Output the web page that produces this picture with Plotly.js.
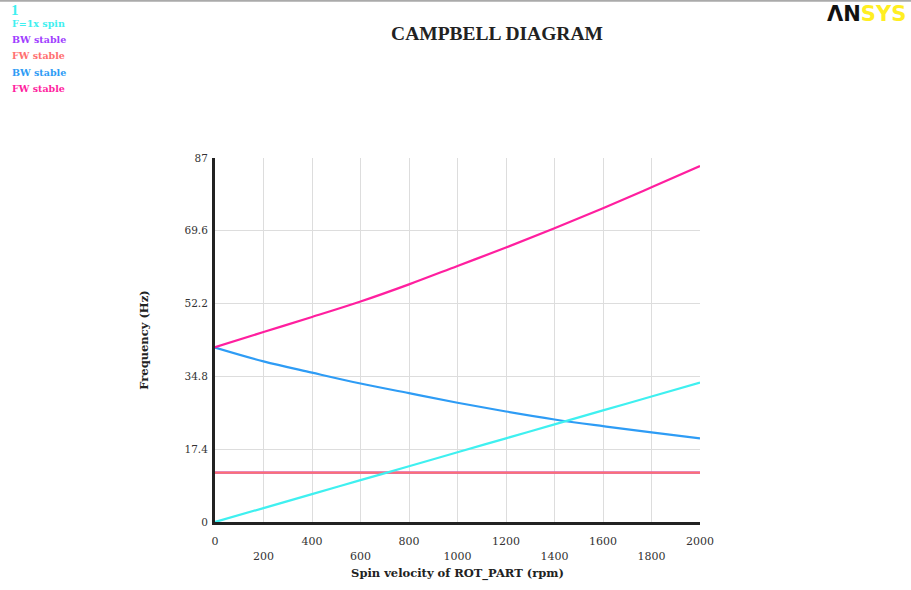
<!DOCTYPE html>
<html>
<head>
<meta charset="utf-8">
<script src="https://cdn.plot.ly/plotly-3.0.1.min.js"></script>
<style>html,body{margin:0;padding:0;background:#fff;}#chart{width:911px;height:590px;}</style>
</head>
<body>
<div id="chart"></div>
<script>
// Spin velocity (rpm)
const rpm = [0, 200, 400, 600, 800, 1000, 1200, 1400, 1600, 1800, 2000];
// Series (Hz)
const spin1x   = [0, 3.33, 6.67, 10.0, 13.33, 16.67, 20.0, 23.33, 26.67, 30.0, 33.33];
const bwStable1 = [11.8, 11.8, 11.8, 11.8, 11.8, 11.8, 11.8, 11.8, 11.8, 11.8, 11.8];
const fwStable1 = [11.8, 11.8, 11.8, 11.8, 11.8, 11.8, 11.8, 11.8, 11.8, 11.8, 11.8];
const bwStable2 = [41.7, 38.4, 35.7, 33.1, 30.8, 28.5, 26.4, 24.5, 22.9, 21.4, 20.0];
const fwStable2 = [41.8, 45.4, 49.0, 52.7, 56.8, 61.2, 65.6, 70.2, 75.0, 80.0, 85.1];

const yTicks = [0, 17.4, 34.8, 52.2, 69.6, 87];
const yTickText = ["0", "17.4", "34.8", "52.2", "69.6", "87"];
const xTicks = [0, 200, 400, 600, 800, 1000, 1200, 1400, 1600, 1800, 2000];
const xTickText = ["0", "<br>200", "400", "<br>600", "800", "<br>1000", "1200", "<br>1400", "1600", "<br>1800", "2000"];

const legendNames = ["F=1x spin", "BW stable", "FW stable", "BW stable", "FW stable"];
const colors = ["#3ff0f0", "#a040ff", "#ff7070", "#2e9cf5", "#ff1f9f"];

const F = "Liberation Serif, Times New Roman, serif";
const FW = "DejaVu Serif, serif";
const seriesData = [spin1x, bwStable1, fwStable1, bwStable2, fwStable2];
const drawOrder = [1, 2, 3, 4, 0];

const traces = drawOrder.map(i => ({
  x: rpm, y: seriesData[i], type: "scatter", mode: "lines",
  name: legendNames[i], line: {color: colors[i], width: 2.2, shape: "spline"},
  showlegend: false, hoverinfo: "x+y"
}));

const PW = 485, PH = 364.5, L = 215, B = 522.5;
const px = v => (v - L) / PW;
const py = v => (B - v) / PH;

const annotations = [
  {text: "<b>1</b>", x: px(9), y: py(10), xref: "paper", yref: "paper", showarrow: false,
   xanchor: "left", yanchor: "middle", font: {family: F, size: 15, color: colors[0]}}
];
legendNames.forEach((n, i) => {
  annotations.push({
    text: "<b>" + n + "</b>", xref: "paper", yref: "paper",
    x: px(10), y: py(23 + i * 16.3),
    showarrow: false, xanchor: "left", yanchor: "middle",
    font: {family: FW, size: 9.5, color: colors[i]}
  });
});
// ANSYS logo
annotations.push({
  text: "<b>ΛN</b><b><span style='color:#ffee22'>SYS</span></b>",
  xref: "paper", yref: "paper", x: px(908), y: py(14),
  xanchor: "right", yanchor: "middle", showarrow: false,
  font: {family: "DejaVu Sans, sans-serif", size: 21, color: "#111"}
});

const layout = {
  width: 911, height: 590,
  margin: {l: 215, r: 211, t: 158, b: 67.5, pad: 0},
  paper_bgcolor: "#fff", plot_bgcolor: "#fff",
  title: {text: "<b>CAMPBELL DIAGRAM</b>", x: 497/911, xanchor: "center", y: 1 - 33/590, yanchor: "middle",
          font: {family: F, size: 19.5, color: "#222"}},
  xaxis: {
    range: [0, 2000], tickvals: xTicks, ticktext: xTickText, tickangle: 0,
    showgrid: true, gridcolor: "#dddddd", gridwidth: 1, zeroline: false,
    showline: true, linecolor: "#222", linewidth: 3, ticks: "", ticklabelstandoff: 7,
    tickfont: {family: FW, size: 11, color: "#333"},
    title: {text: "<b>Spin velocity of ROT_PART (rpm)</b>", standoff: 8, font: {family: FW, size: 11.5, color: "#222"}},
    automargin: false, fixedrange: true
  },
  yaxis: {
    range: [0, 87], tickvals: yTicks, ticktext: yTickText,
    showgrid: true, gridcolor: "#dddddd", gridwidth: 1, zeroline: false,
    showline: true, linecolor: "#222", linewidth: 3, ticks: "", ticklabelstandoff: 2,
    tickfont: {family: FW, size: 10.5, color: "#333"},
    title: {text: "<b>Frequency (Hz)</b>", standoff: 34, font: {family: FW, size: 11.5, color: "#222"}},
    automargin: false, fixedrange: true
  },
  annotations: annotations,
  shapes: [{type: "line", xref: "paper", yref: "paper", x0: px(0), x1: px(911),
            y0: py(0.5), y1: py(0.5), line: {color: "#aaaaaa", width: 2}}],
  showlegend: false
};

Plotly.newPlot("chart", traces, layout, {displayModeBar: false, staticPlot: true});
</script>
</body>
</html>
